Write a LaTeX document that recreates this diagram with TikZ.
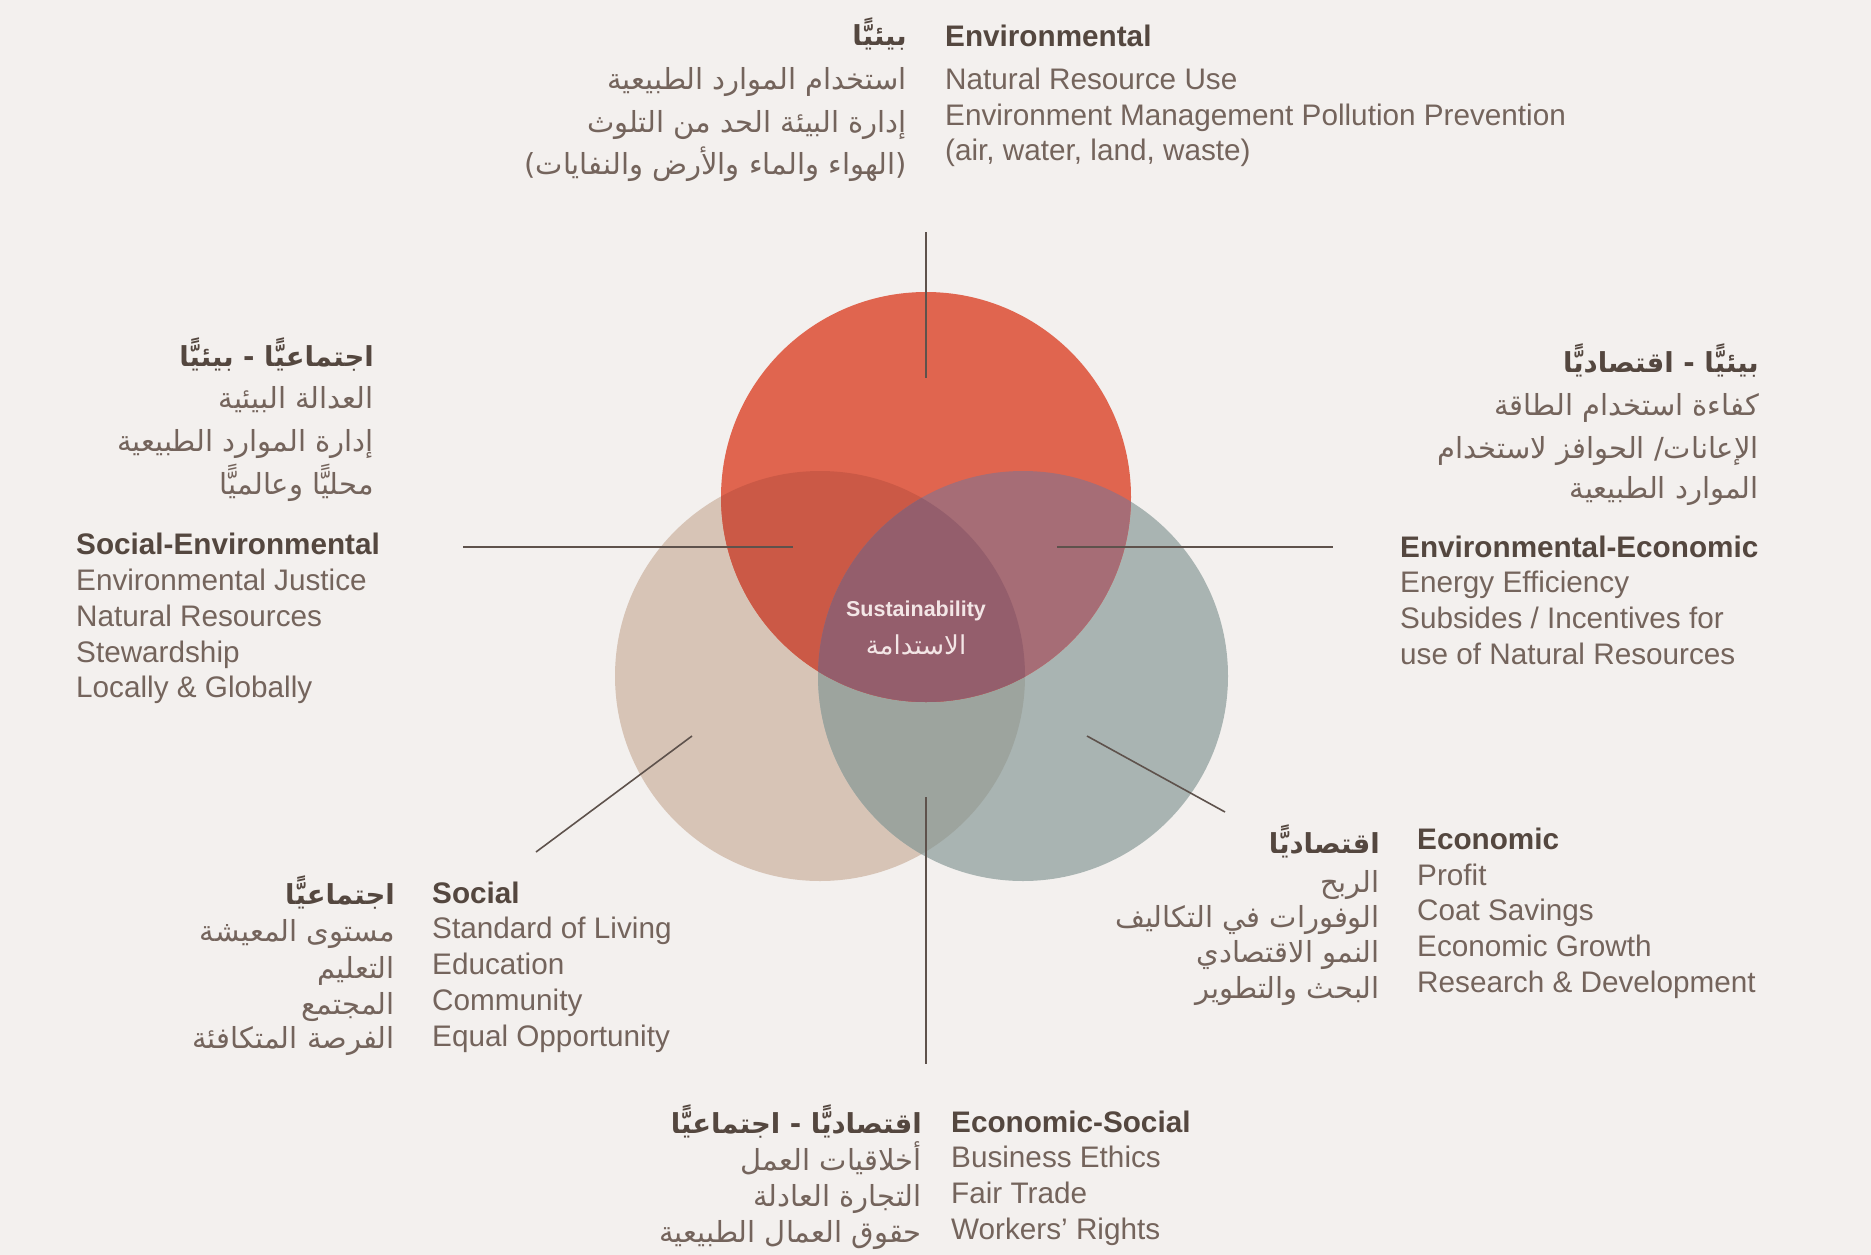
\documentclass[tikz,border=0pt]{standalone}
\usepackage{fontspec}
\setmainfont{Liberation Sans}
\newfontfamily\arabicfont[Script=Arabic]{DejaVu Sans}
\TeXXeTstate=1
\definecolor{bgc}{HTML}{F3F0EE}
\definecolor{redc}{HTML}{E0654F}
\definecolor{beigec}{HTML}{D7C4B6}
\definecolor{tealc}{HTML}{A9B4B2}
\definecolor{rbc}{HTML}{CB5946}
\definecolor{rtc}{HTML}{A66D76}
\definecolor{btc}{HTML}{9DA49E}
\definecolor{midc}{HTML}{945E6C}
\definecolor{headc}{HTML}{54473F}
\definecolor{bodyc}{HTML}{74645C}
\definecolor{linec}{HTML}{5E524C}
\definecolor{susc}{HTML}{F3E6E6}
\tikzset{
  en/.style={anchor=base west, inner sep=0pt, text=bodyc, font=\fontsize{29.7}{35}\selectfont},
  enh/.style={anchor=base west, inner sep=0pt, text=headc, font=\fontsize{29.7}{35}\selectfont\bfseries},
  ar/.style={anchor=base east, inner sep=0pt, text=bodyc, font=\arabicfont\fontsize{29}{34}\selectfont},
  arh/.style={anchor=base east, inner sep=0pt, text=headc, font=\arabicfont\bfseries\fontsize{27.5}{33}\selectfont},
  conn/.style={draw=linec, line width=1.6pt},
}
\begin{document}
\begin{tikzpicture}[x=1pt,y=-1pt]
\fill[bgc] (0,0) rectangle (1871,1255);
\useasboundingbox (0,0) rectangle (1871,1255);
% circles
\coordinate (rc) at (926,497);
\coordinate (bc) at (820,676);
\coordinate (tc) at (1023,676);
\fill[beigec] (bc) circle (205pt);
\fill[tealc] (tc) circle (205pt);
\begin{scope}
  \clip (bc) circle (205pt);
  \fill[btc] (tc) circle (205pt);
\end{scope}
\fill[redc] (rc) circle (205pt);
\begin{scope}
  \clip (rc) circle (205pt);
  \fill[rbc] (bc) circle (205pt);
  \fill[rtc] (tc) circle (205pt);
  \clip (bc) circle (205pt);
  \fill[midc] (tc) circle (205pt);
\end{scope}
% connectors
\coordinate (ta) at (926,232);  \coordinate (tb) at (926,378);
\coordinate (la) at (463,547);  \coordinate (lb) at (793,547);
\coordinate (ra) at (1057,547); \coordinate (rb) at (1333,547);
\coordinate (sa) at (692,736);  \coordinate (sb) at (536,852);
\coordinate (ea) at (1087,736); \coordinate (eb) at (1225,812);
\coordinate (ba) at (926,797);  \coordinate (bb) at (926,1064);
\draw[conn] (ta) -- (tb);
\draw[conn] (la) -- (lb);
\draw[conn] (ra) -- (rb);
\draw[conn] (sa) -- (sb);
\draw[conn] (ea) -- (eb);
\draw[conn] (ba) -- (bb);
% center
\node[text=susc, font=\fontsize{21.5}{26}\selectfont\bfseries] (sus) at (916,611) {Sustainability};
\node[text=susc, font=\arabicfont\fontsize{26}{30}\selectfont] (susar) at (916,645) {\beginR الاستدامة\endR};
% top block
\node[enh] (te0) at (945,47) {Environmental};
\node[en] (te1) at (945,89) {Natural Resource Use};
\node[en] (te2) at (945,125) {Environment Management Pollution Prevention};
\node[en] (te3) at (945,160) {(air, water, land, waste)};
\node[arh] (tr0) at (907,46) {\beginR بيئيًّا\endR};
\node[ar] (tr1) at (907,89) {\beginR استخدام الموارد الطبيعية\endR};
\node[ar] (tr2) at (907,132) {\beginR إدارة البيئة الحد من التلوث\endR};
\node[ar] (tr3) at (907,174) {\beginR (الهواء والماء والأرض والنفايات)\endR};
% left block
\node[arh] (lr0) at (374,366) {\beginR اجتماعيًّا - بيئيًّا\endR};
\node[ar] (lr1) at (374,408) {\beginR العدالة البيئية\endR};
\node[ar] (lr2) at (374,451) {\beginR إدارة الموارد الطبيعية\endR};
\node[ar] (lr3) at (374,494) {\beginR محليًّا وعالميًّا\endR};
\node[enh] (le0) at (76,554) {Social-Environmental};
\node[en] (le1) at (76,590) {Environmental Justice};
\node[en] (le2) at (76,626) {Natural Resources};
\node[en] (le3) at (76,662) {Stewardship};
\node[en] (le4) at (76,697) {Locally \& Globally};
% right block
\node[arh] (rr0) at (1759,372) {\beginR بيئيًّا - اقتصاديًّا\endR};
\node[ar] (rr1) at (1759,415) {\beginR كفاءة استخدام الطاقة\endR};
\node[ar] (rr2) at (1759,458) {\beginR الإعانات/ الحوافز لاستخدام\endR};
\node[ar] (rr3) at (1759,498) {\beginR الموارد الطبيعية\endR};
\node[enh] (re0) at (1400,557) {Environmental-Economic};
\node[en] (re1) at (1400,592) {Energy Efficiency};
\node[en] (re2) at (1400,628) {Subsides / Incentives for};
\node[en] (re3) at (1400,664) {use of Natural Resources};
% social block
\node[enh] (se0) at (432,903) {Social};
\node[en] (se1) at (432,938) {Standard of Living};
\node[en] (se2) at (432,974) {Education};
\node[en] (se3) at (432,1010) {Community};
\node[en] (se4) at (432,1046) {Equal Opportunity};
\node[arh] (sr0) at (395,904) {\beginR اجتماعيًّا\endR};
\node[ar] (sr1) at (395,941) {\beginR مستوى المعيشة\endR};
\node[ar] (sr2) at (395,978) {\beginR التعليم\endR};
\node[ar] (sr3) at (395,1014) {\beginR المجتمع\endR};
\node[ar] (sr4) at (395,1048) {\beginR الفرصة المتكافئة\endR};
% economic block
\node[enh] (ee0) at (1417,849) {Economic};
\node[en] (ee1) at (1417,885) {Profit};
\node[en] (ee2) at (1417,920) {Coat Savings};
\node[en] (ee3) at (1417,956) {Economic Growth};
\node[en] (ee4) at (1417,992) {Research \& Development};
\node[arh] (er0) at (1380,853) {\beginR اقتصاديًّا\endR};
\node[ar] (er1) at (1380,892) {\beginR الربح\endR};
\node[ar] (er2) at (1380,927) {\beginR الوفورات في التكاليف\endR};
\node[ar] (er3) at (1380,962) {\beginR النمو الاقتصادي\endR};
\node[ar] (er4) at (1380,998) {\beginR البحث والتطوير\endR};
% economic-social block
\node[enh] (be0) at (951,1132) {Economic-Social};
\node[en] (be1) at (951,1167) {Business Ethics};
\node[en] (be2) at (951,1203) {Fair Trade};
\node[en] (be3) at (951,1239) {Workers' Rights};
\node[arh] (br0) at (922,1133) {\beginR اقتصاديًّا - اجتماعيًّا\endR};
\node[ar] (br1) at (922,1170) {\beginR أخلاقيات العمل\endR};
\node[ar] (br2) at (922,1206) {\beginR التجارة العادلة\endR};
\node[ar] (br3) at (922,1242) {\beginR حقوق العمال الطبيعية\endR};
\end{tikzpicture}
\end{document}
